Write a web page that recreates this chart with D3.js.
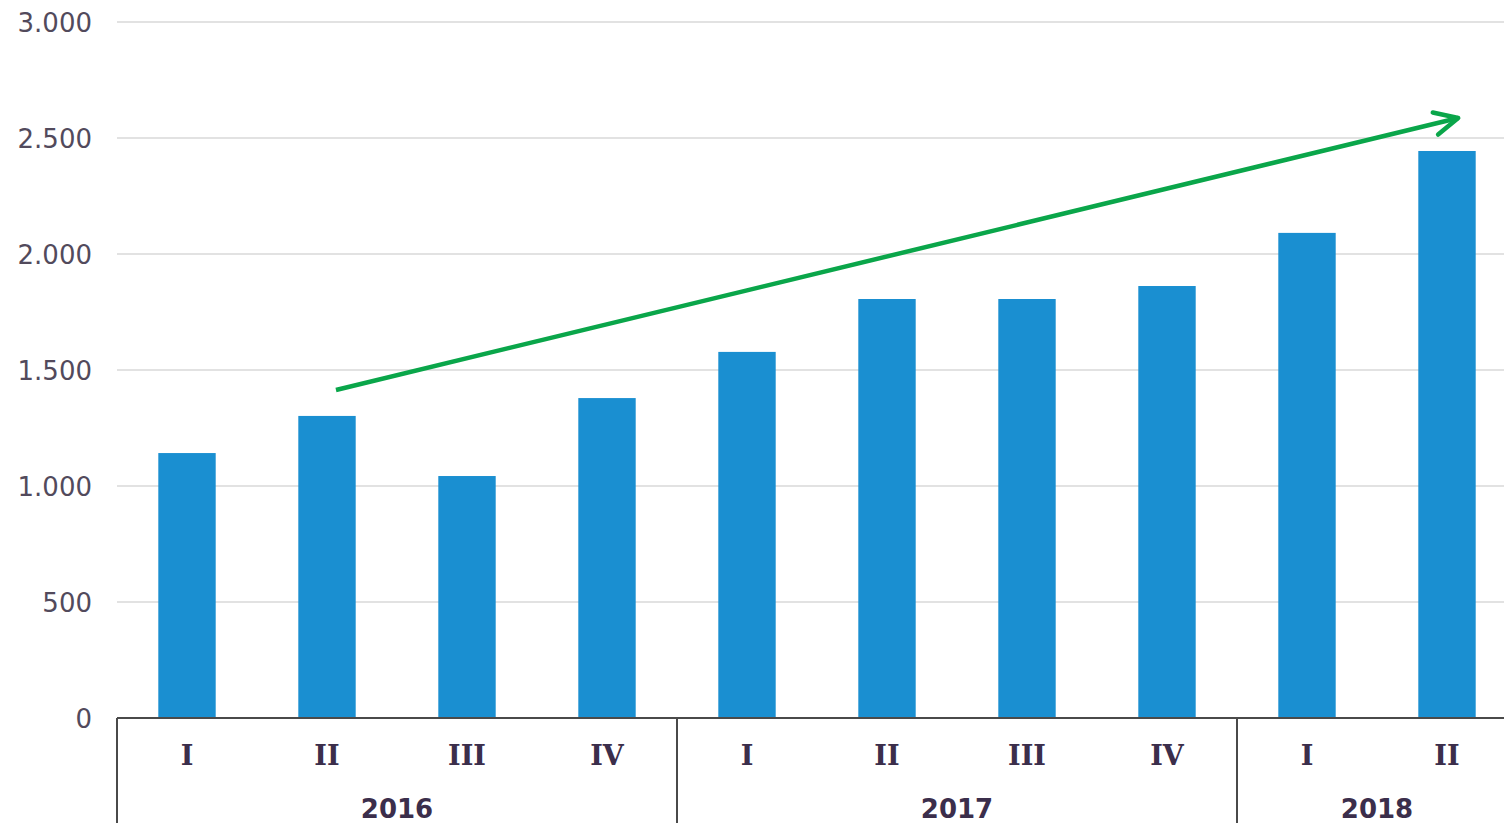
<!DOCTYPE html>
<html><head><meta charset="utf-8">
<script src="https://cdn.jsdelivr.net/npm/d3@7"></script>
<style>html,body{margin:0;padding:0;background:#fff;overflow:hidden}</style>
</head><body><svg id="c" width="1504" height="823"></svg>
<script>
const quarters = ["I","II","III","IV","I","II","III","IV","I","II"];
const years = ["2016","2016","2016","2016","2017","2017","2017","2017","2018","2018"];
const values = [1142,1302,1043,1379,1578,1806,1806,1862,2091,2444];
const yTicks = [0,500,1000,1500,2000,2500,3000];
const yearGroups = ["2016","2017","2018"];
// trend arrow: [category position (index units from left edge), value]
const arrowStart = [1.564, 1414];
const arrowEnd = [9.58, 2586];

(function(){
const svg = d3.select("#c");
const mL = 117, mR = 1517, mT = 22, mB = 718;
const idx = d3.range(values.length);
const x = d3.scaleBand().domain(idx).range([mL, mR]).paddingInner(0.59).paddingOuter(0.295);
const y = d3.scaleLinear().domain([0,3000]).range([mB, mT]);
const xPos = d3.scaleLinear().domain([0, values.length]).range([mL, mR]);

// gridlines
svg.append("g").selectAll("line").data(yTicks.filter(d=>d>0)).join("line")
  .attr("x1", mL).attr("x2", 1504).attr("y1", d=>y(d)).attr("y2", d=>y(d))
  .attr("stroke", "#d9d9d9").attr("stroke-width", 1.5);

// y labels
const yAxis = d3.axisLeft(y).tickValues(yTicks).tickSize(0).tickPadding(0)
  .tickFormat(d => d3.format(",")(d).replace(/,/g, "."));
const ya = svg.append("g").attr("transform", `translate(92,0)`).call(yAxis);
ya.select(".domain").remove();
ya.selectAll("text").attr("font-family", "DejaVu Sans, Verdana, sans-serif")
  .attr("font-size", 26).attr("fill", "#524a5c").attr("dy", "0.36em");

// bars
svg.append("g").selectAll("rect").data(idx).join("rect")
  .attr("x", i => x(i)).attr("width", x.bandwidth())
  .attr("y", i => y(values[i])).attr("height", i => y(0) - y(values[i]))
  .attr("fill", "#1a8fd1");

// x axis line
svg.append("line").attr("x1", mL).attr("x2", 1504).attr("y1", mB).attr("y2", mB)
  .attr("stroke", "#4a4a4a").attr("stroke-width", 2);

// group separators
const groupStart = yearGroups.map(g => years.indexOf(g));
const seps = groupStart.concat([values.length]);
svg.append("g").selectAll("line").data(seps).join("line")
  .attr("x1", d => xPos(d)).attr("x2", d => xPos(d)).attr("y1", mB).attr("y2", 823)
  .attr("stroke", "#4a4a4a").attr("stroke-width", 2);

// quarter labels
svg.append("g").selectAll("text").data(idx).join("text")
  .attr("x", i => x(i) + x.bandwidth()/2).attr("y", 765)
  .attr("text-anchor", "middle")
  .attr("font-family", "DejaVu Serif, serif").attr("font-weight", "bold")
  .attr("font-size", 27).attr("fill", "#3b2e4b").text(i => quarters[i]);

// year labels
svg.append("g").selectAll("text").data(yearGroups).join("text")
  .attr("x", g => {
    const s = years.indexOf(g), e = years.lastIndexOf(g) + 1;
    return (xPos(s) + xPos(e)) / 2;
  })
  .attr("y", 818).attr("text-anchor", "middle")
  .attr("font-family", "DejaVu Sans, Verdana, sans-serif").attr("font-weight", "bold")
  .attr("font-size", 26).attr("fill", "#3b2e4b").text(g => g);

// trend arrow
const x1 = xPos(arrowStart[0]), y1 = y(arrowStart[1]);
const x2 = xPos(arrowEnd[0]), y2 = y(arrowEnd[1]);
svg.append("line").attr("x1", x1).attr("y1", y1).attr("x2", x2).attr("y2", y2)
  .attr("stroke", "#0aa64a").attr("stroke-width", 4.5).attr("stroke-linecap", "butt");
const ang = Math.atan2(y2 - y1, x2 - x1);
const L = 26, spread = 0.45;
const p1 = [x2 - L*Math.cos(ang - spread), y2 - L*Math.sin(ang - spread)];
const p2 = [x2 - L*Math.cos(ang + spread), y2 - L*Math.sin(ang + spread)];
svg.append("path").attr("d", `M${p1[0]},${p1[1]}L${x2},${y2}L${p2[0]},${p2[1]}`)
  .attr("fill", "none").attr("stroke", "#0aa64a").attr("stroke-width", 4.5)
  .attr("stroke-linecap", "round").attr("stroke-linejoin", "round");
})();
</script></body></html>
